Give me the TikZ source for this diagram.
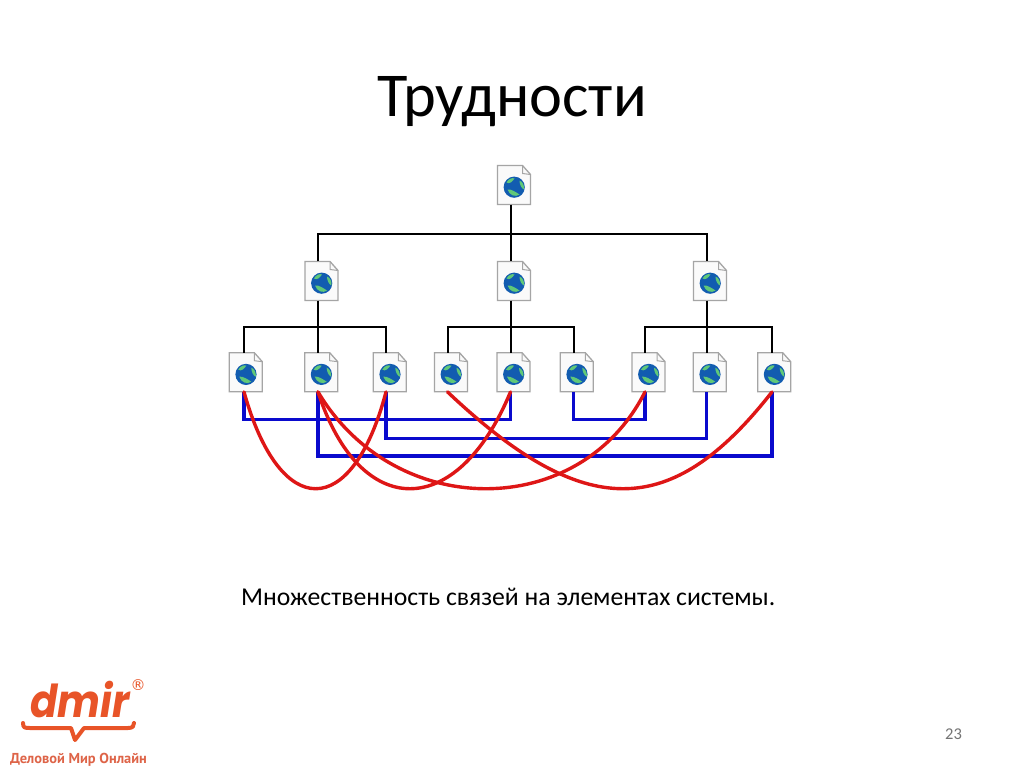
\documentclass[tikz,border=0pt]{standalone}
\usepackage{fontspec}
\setmainfont{Carlito}
\newfontfamily\logofont{Poppins}
\newfontfamily\subfont{PT Sans}
\newfontfamily\regfont{DejaVu Sans}
\definecolor{linkblue}{RGB}{10,10,205}
\definecolor{linkred}{RGB}{222,22,22}
\definecolor{logoorange}{RGB}{232,84,40}
\definecolor{logosub}{RGB}{222,100,72}
\definecolor{globeblue}{RGB}{18,92,176}
\definecolor{globegreen}{RGB}{96,200,120}
\definecolor{pageedge}{RGB}{165,165,165}
\tikzset{
  page/.style={inner sep=0pt,minimum width=26,minimum height=39},
  tree/.style={line width=2pt,black},
  bluelink/.style={line width=3.4pt,linkblue,line join=miter},
  redlink/.style={line width=3.4pt,linkred,line cap=round},
  pagebody/.style={draw=pageedge,line width=1.3pt,fill=white!96!gray},
}
% #1 node name, #2 left edge of the sheet relative to the node centre
\newcommand{\docicon}[2]{%
  \begin{scope}[shift={(#1.center)},xshift=#2,yshift=19.5]
    \path[pagebody] (0,0) -- (25,0) -- (33,9) -- (33,39) -- (0,39) -- cycle;
    \draw[pageedge,line width=1pt] (25,0) -- (25,8) -- (33,9);
    \fill[globeblue] (16.7,21.7) circle (10.6);
    \fill[globegreen] (9,17) .. controls (11,13) and (15,12) .. (17,13) .. controls (15,16) and (12,19) .. (9,17) -- cycle;
    \fill[globegreen] (10,24) .. controls (13,23) and (19,27) .. (22,29) .. controls (18,32) and (12,30) .. (10,24) -- cycle;
    \fill[globegreen] (22,15) .. controls (25,16) and (27,20) .. (26.5,24) .. controls (24,23) and (22,19) .. (22,15) -- cycle;
  \end{scope}}
\begin{document}
\begin{tikzpicture}[x=1pt,y=-1pt]
\useasboundingbox (0,0) rectangle (1024,768);
\fill[white] (0,0) rectangle (1024,768);

\node[font=\fontsize{62.4}{66}\selectfont,anchor=base] (title) at (512,116) {Трудности};

\node[page] (top) at (510.5,185) {};
\node[page] (m1) at (318,281) {};
\node[page] (m2) at (510.5,281) {};
\node[page] (m3) at (706.5,281) {};
\node[page] (d1) at (244,372.2) {};
\node[page] (d2) at (318,372.2) {};
\node[page] (d3) at (386,372.2) {};
\node[page] (d4) at (447.5,372.2) {};
\node[page] (d5) at (510.5,372.2) {};
\node[page] (d6) at (573.5,372.2) {};
\node[page] (d7) at (645,372.2) {};
\node[page] (d8) at (706.5,372.2) {};
\node[page] (d9) at (772,372.2) {};

\docicon{top}{-13}
\docicon{m1}{-13}
\docicon{m2}{-13}
\docicon{m3}{-13}
\docicon{d1}{-14.7}
\docicon{d2}{-13.3}
\docicon{d3}{-12.7}
\docicon{d4}{-13}
\docicon{d5}{-13.5}
\docicon{d6}{-13.2}
\docicon{d7}{-13}
\docicon{d8}{-13.2}
\docicon{d9}{-14.3}

% tree
\draw[tree] (top.south) -- (m2.north);
\coordinate (b0) at (510.5,234);
\draw[tree] (m1.north) |- (b0) -| (m3.north);
\draw[tree] (m1.south) -- (d2.north);
\coordinate (b1) at (318,327);
\draw[tree] (d1.north) |- (b1) -| (d3.north);
\draw[tree] (m2.south) -- (d5.north);
\coordinate (b2) at (510.5,327);
\draw[tree] (d4.north) |- (b2) -| (d6.north);
\draw[tree] (m3.south) -- (d8.north);
\coordinate (b3) at (706.5,327);
\draw[tree] (d7.north) |- (b3) -| (d9.north);

% blue links
\draw[bluelink] (d1.south) -- ++(0,27.3) -| (d5.south);
\draw[bluelink] (d6.south) -- ++(0,27.3) -| (d7.south);
\draw[bluelink] (d3.south) -- ++(0,46.3) -| (d8.south);
\draw[bluelink] (d2.south) -- ++(0,64) -| (d9.south);

% red links
\draw[redlink] (d1.south) .. controls (280,521) and (352,521) .. (d3.south);
\draw[redlink] (d2.south) .. controls (360,521) and (457,521) .. (d5.south);
\draw[redlink] (d2.south) .. controls (395,521) and (580,521) .. (d7.south);
\draw[redlink] (d4.south) .. controls (584,521) and (671,521) .. (d9.south);

\node[font=\fontsize{25.7}{28}\selectfont,anchor=base west,inner sep=0pt] (caption) at (241,605) {Множественность связей на элементах системы.};
\node[font=\fontsize{16.5}{18}\selectfont,text=black!55,anchor=base,inner sep=0pt] (num) at (953.5,739) {23};

% logo
\node[font=\logofont\bfseries\itshape\fontsize{40.5}{46}\selectfont,text=logoorange,anchor=base,inner sep=0pt] (dmir) at (80,717) {\scalebox{1}[1.12]{dmir}};
\node[font=\regfont\fontsize{15}{15}\selectfont,text=logoorange,anchor=center,inner sep=0pt] (reg) at (138,685) {®};
\draw[logoorange,line width=4pt,line cap=round,line join=round] (23,723) .. controls (23,728) and (25,728) .. (30,728) -- (71,728) -- (75,740) -- (84,728) -- (128,728) .. controls (133,728) and (134,726) .. (134,723);
\node[font=\subfont\bfseries\fontsize{14.4}{15}\selectfont,text=logosub,anchor=base,inner sep=0pt] (sub) at (78.5,763) {Деловой Мир Онлайн};
\end{tikzpicture}
\end{document}
